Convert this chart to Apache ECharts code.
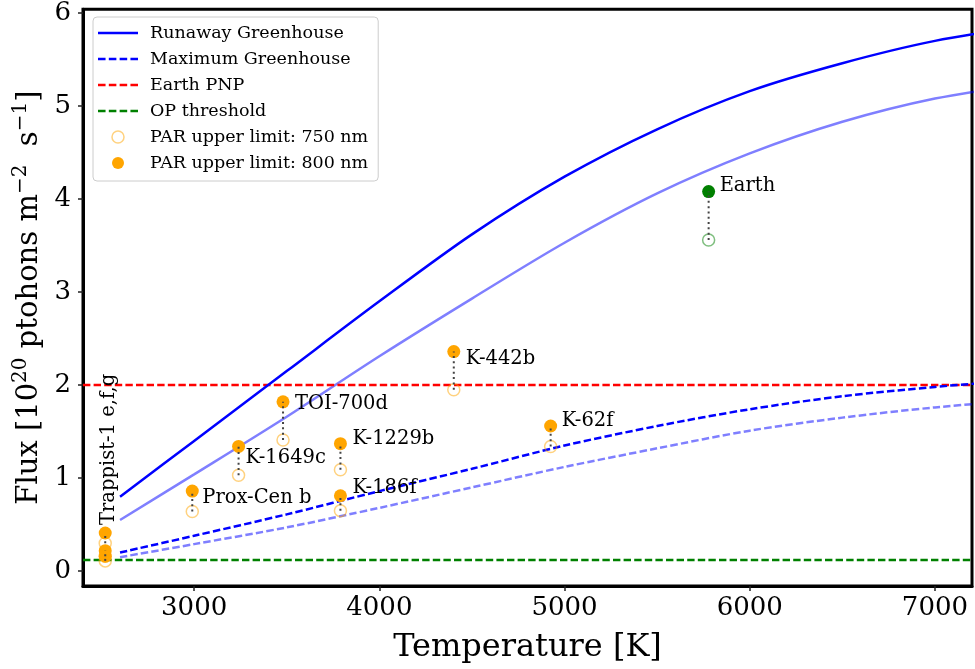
<!DOCTYPE html>
<html><head><meta charset="utf-8">
<script src="https://cdn.jsdelivr.net/npm/echarts@6/dist/echarts.min.js"></script>
<style>html,body{margin:0;padding:0;background:#fff}#c{width:975px;height:669px}</style>
</head><body><div id="c"></div>
<script>
// ---- data ----
const tempK = [2600, 3000, 3500, 4000, 4500, 5000, 5500, 6000, 6500, 7000, 7500];
const runawayGH = [0.80, 1.40, 2.15, 2.90, 3.62, 4.24, 4.75, 5.16, 5.46, 5.70, 5.86];
const runawayGHlow = [0.55, 1.04, 1.66, 2.31, 2.93, 3.53, 4.06, 4.49, 4.83, 5.08, 5.24];
const maxGH = [0.20, 0.38, 0.61, 0.86, 1.10, 1.35, 1.56, 1.74, 1.88, 1.98, 2.06];
const maxGHlow = [0.15, 0.29, 0.47, 0.68, 0.90, 1.12, 1.32, 1.51, 1.65, 1.76, 1.84];
const earthPNP = 2.0;
const opThreshold = 0.12;

const planetKeys = ['Trappist-1 e', 'Trappist-1 f', 'Trappist-1 g', 'Prox-Cen b', 'K-1649c', 'TOI-700d', 'K-1229b', 'K-186f', 'K-442b', 'K-62f', 'Earth'];
const planetLabels = ['Trappist-1 e,f,g', '', '', 'Prox-Cen b', 'K-1649c', 'TOI-700d', 'K-1229b', 'K-186f', 'K-442b', 'K-62f', 'Earth'];
const planetTemp = [2520, 2520, 2520, 2990, 3240, 3480, 3790, 3790, 4402, 4925, 5778];
const flux800 = [0.41, 0.22, 0.16, 0.86, 1.34, 1.82, 1.37, 0.81, 2.36, 1.56, 4.08];
const flux750 = [0.30, 0.16, 0.11, 0.64, 1.03, 1.41, 1.09, 0.65, 1.95, 1.34, 3.56];

const xTicks = [3000, 4000, 5000, 6000, 7000];
const yTicks = [0, 1, 2, 3, 4, 5, 6];
const xRange = [2400, 7200];
const yRange = [-0.16, 6.04];

// ---- styling (kept out of the data) ----
const F = 'DejaVu Serif';
// label offsets; rotated label offset is given in its rotated frame
const labelOffsets = {
  'Trappist-1 e': [8, 4], 'Prox-Cen b': [10, 7], 'K-1649c': [7, 11], 'TOI-700d': [12, 2],
  'K-1229b': [12, -5], 'K-186f': [12, -8], 'K-442b': [12, 7], 'K-62f': [11, -5], 'Earth': [11, -6]
};
const ORANGE = '#FFA500', GREEN = '#008000';
const SOLID_ICON = 'path://M0,0H40V2.5H0Z';
const DASH_ICON = 'path://M0,0H7.4V2.5H0Z M10.6,0H18V2.5H10.6Z M21.2,0H28.6V2.5H21.2Z M31.8,0H39.2V2.5H31.8Z';

const zip = (xs, ys) => xs.map((x, i) => [x, ys[i]]);

const filledData = planetKeys.map((k, i) => {
  const item = { value: [planetTemp[i], flux800[i]] };
  if (k === 'Earth') item.itemStyle = { color: GREEN };
  const txt = planetLabels[i];
  if (txt) {
    item.label = {
      show: true, formatter: txt, position: 'inside', align: 'left', verticalAlign: 'middle',
      offset: labelOffsets[k], color: '#000', fontFamily: F, fontSize: 19.5
    };
    if (k === 'Trappist-1 e') item.label.rotate = 90;
  }
  return item;
});
const openData = planetKeys.map((k, i) => {
  const item = { value: [planetTemp[i], flux750[i]] };
  if (k === 'Earth') item.itemStyle = { borderColor: 'rgba(0,128,0,0.5)' };
  return item;
});
const linkData = planetKeys.map((k, i) => [planetTemp[i], flux750[i], flux800[i]]);

const chart = echarts.init(document.getElementById('c'), null, { renderer: 'canvas' });
const dash = [7.4, 3.2];
const lineSeries = (name, data, color, type, z) => ({
  type: 'line', name, data, symbol: 'none', smooth: 0.3, clip: true, silent: true, z: z || 2,
  lineStyle: { color, width: 2.5, type }, itemStyle: { color }, emphasis: { disabled: true }
});

chart.setOption({
  animation: false,
  grid: { left: 83, right: 3, top: 9, bottom: 81, show: true, borderColor: '#000', borderWidth: 3, backgroundColor: 'transparent', containLabel: false },
  xAxis: {
    type: 'value', min: xRange[0], max: xRange[1],
    name: 'Temperature [K]', nameLocation: 'middle', nameGap: 46,
    nameTextStyle: { fontFamily: F, fontSize: 32, color: '#000' },
    axisLine: { show: true, onZero: false, lineStyle: { color: '#000', width: 3 } },
    axisTick: { show: true, customValues: xTicks, length: 5, lineStyle: { color: '#222', width: 1.5 } },
    axisLabel: { customValues: xTicks, formatter: v => String(v), margin: 9, fontFamily: F, fontSize: 26, color: '#000' },
    splitLine: { show: false }
  },
  yAxis: {
    type: 'value', min: yRange[0], max: yRange[1],
    name: '{b|Flux [10}{s|20}{b| ptohons m}{s|−2}{b|  s}{s|−1}{b|]}',
    nameLocation: 'middle', nameRotate: 90, nameGap: 36,
    nameTextStyle: {
      rich: {
        b: { fontFamily: F, fontSize: 29, color: '#000', lineHeight: 36 },
        s: { fontFamily: F, fontSize: 20, color: '#000', lineHeight: 20, verticalAlign: 'top' }
      }
    },
    axisLine: { show: true, onZero: false, lineStyle: { color: '#000', width: 3 } },
    axisTick: { show: true, customValues: yTicks, length: 5, lineStyle: { color: '#222', width: 1.5 } },
    axisLabel: { customValues: yTicks, formatter: v => String(v), margin: 12, fontFamily: F, fontSize: 26, color: '#000' },
    splitLine: { show: false }
  },
  legend: {
    left: 93, top: 17, orient: 'vertical', itemWidth: 40, itemHeight: 12, itemGap: 6,
    padding: [6, 10, 8, 5], borderColor: '#ccc', borderWidth: 1, borderRadius: 4,
    backgroundColor: 'rgba(255,255,255,0.8)', selectedMode: false,
    textStyle: { fontFamily: F, fontSize: 17.5, color: '#000', lineHeight: 20, padding: [0, 0, 0, 7] },
    data: [
      { name: 'Runaway Greenhouse', icon: SOLID_ICON, itemStyle: { color: '#0000ff', borderWidth: 0 } },
      { name: 'Maximum Greenhouse', icon: DASH_ICON, itemStyle: { color: '#0000ff', borderWidth: 0 } },
      { name: 'Earth PNP', icon: DASH_ICON, itemStyle: { color: '#ff0000', borderWidth: 0 } },
      { name: 'OP threshold', icon: DASH_ICON, itemStyle: { color: '#008000', borderWidth: 0 } },
      { name: 'PAR upper limit: 750 nm', icon: 'circle', itemStyle: { color: '#fff', borderColor: 'rgba(255,165,0,0.5)', borderWidth: 1.5, opacity: 1 } },
      { name: 'PAR upper limit: 800 nm', icon: 'circle', itemStyle: { color: ORANGE, borderWidth: 0, opacity: 1 } }
    ]
  },
  series: [
    lineSeries('Runaway Greenhouse', zip(tempK, runawayGH), '#0000ff', 'solid', 3),
    lineSeries('Runaway Greenhouse (750 nm)', zip(tempK, runawayGHlow), 'rgba(0,0,255,0.5)', 'solid'),
    lineSeries('Maximum Greenhouse', zip(tempK, maxGH), '#0000ff', dash, 3),
    lineSeries('Maximum Greenhouse (750 nm)', zip(tempK, maxGHlow), 'rgba(0,0,255,0.5)', dash),
    { ...lineSeries('Earth PNP', [[xRange[0], earthPNP], [xRange[1], earthPNP]], '#ff0000', dash), smooth: false },
    { ...lineSeries('OP threshold', [[xRange[0], opThreshold], [xRange[1], opThreshold]], '#008000', dash), smooth: false },
    {
      type: 'scatter', name: 'PAR upper limit: 750 nm', data: openData, symbolSize: 12, z: 4, silent: true,
      itemStyle: { color: 'rgba(255,255,255,0)', borderColor: 'rgba(255,165,0,0.5)', borderWidth: 1.5, opacity: 1 },
      emphasis: { disabled: true }
    },
    {
      type: 'scatter', name: 'PAR upper limit: 800 nm', data: filledData, symbolSize: 13, z: 5, silent: true,
      itemStyle: { color: ORANGE, opacity: 1 }, emphasis: { disabled: true }
    },
    {
      type: 'custom', name: 'links', data: linkData, z: 6, silent: true,
      renderItem: (params, api) => {
        const a = api.coord([api.value(0), api.value(1)]);
        const b = api.coord([api.value(0), api.value(2)]);
        return { type: 'line', shape: { x1: a[0], y1: a[1], x2: b[0], y2: b[1] }, style: { stroke: '#444', lineWidth: 2, lineDash: [2, 3.3] } };
      }
    }
  ]
});
</script></body></html>
